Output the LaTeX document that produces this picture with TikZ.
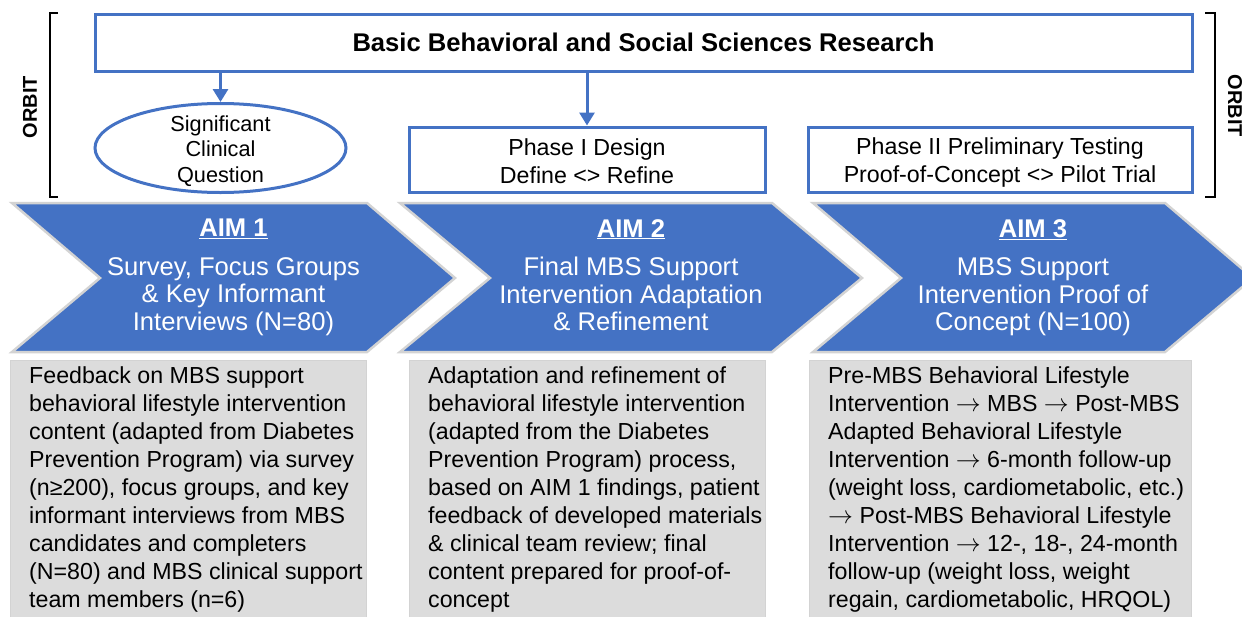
\documentclass[tikz,border=0pt]{standalone}
\usepackage{fontspec}
\setmainfont{Liberation Sans}
\usetikzlibrary{arrows.meta,shapes.geometric,positioning}

\definecolor{aimblue}{HTML}{4472C4}
\definecolor{notegray}{HTML}{DCDCDC}
\definecolor{rimgray}{HTML}{D3D3D3}

\newcommand{\nextstep}{$\rightarrow$}

\tikzset{
    bluebox/.style={rectangle, draw=aimblue, line width=3pt, fill=white, inner sep=0pt, align=center},
    link/.style={draw=aimblue, line width=3pt, -{Triangle[width=15pt,length=13pt]}},
    bracket/.style={draw=black, line width=2.5pt},
    chevron/.style={fill=aimblue, draw=rimgray, line width=2.5pt},
    aimtext/.style={text=white, align=center, inner sep=0pt, anchor=north, font=\fontsize{25.6}{27.5}\selectfont},
    notebox/.style={rectangle, fill=notegray, draw=rimgray, line width=1pt, anchor=north west, minimum height=262pt},
    notetext/.style={align=left, inner sep=0pt, anchor=north west, font=\fontsize{23.2}{28}\selectfont},
    orbit/.style={font=\fontsize{20}{24}\selectfont\bfseries, inner sep=0pt}
}

\begin{document}
\begin{tikzpicture}[x=1pt, y=-1pt]
    \useasboundingbox (0,0) rectangle (1242,616);

    % top row
    \node [bluebox, minimum width=1097pt, minimum height=57pt, font=\fontsize{25.6}{28}\selectfont\bfseries] (basic) at (643.5,42.5) {Basic Behavioral and Social Sciences Research};
    \node [ellipse, draw=aimblue, line width=3pt, minimum width=251pt, minimum height=89pt, inner sep=0pt] (question) at (220.5,148) {};
    \node [align=center, inner sep=0pt, font=\fontsize{21.7}{25.8}\selectfont] (questiontext) at ([yshift=-3pt]question.center) {Significant\\Clinical\\Question};
    \node [bluebox, minimum width=356pt, minimum height=65pt, font=\fontsize{23.2}{27.7}\selectfont] (phase1) at (587,159.5) {\rule{0pt}{20pt}Phase I Design\\Define <> Refine};
    \node [bluebox, minimum width=384pt, minimum height=65pt, font=\fontsize{23.2}{27.7}\selectfont] (phase2) at (1000,159.5) {\rule{0pt}{23pt}Phase II Preliminary Testing\\Proof-of-Concept <> Pilot Trial};

    \draw [link] (question.north |- basic.south) -- (question.north);
    \draw [link] (phase1.north |- basic.south) -- (phase1.north);

    % ORBIT brackets
    \draw [bracket] (58,13) -- (50,13) -- (50,197) -- (58,197);
    \draw [bracket] (1205,13) -- (1215,13) -- (1215,197) -- (1205,197);
    \node [orbit, rotate=90] (orbitleft) at (30,107) {ORBIT};
    \node [orbit, rotate=-90] (orbitright) at (1235,106) {ORBIT};

    % aims
    \draw [chevron] (12,203) -- (367,203) -- (455,278) -- (367,352) -- (12,352) -- (100,278) -- cycle;
    \draw [chevron] (400,203) -- (772,203) -- (862,278) -- (772,352) -- (400,352) -- (490,278) -- cycle;
    \draw [chevron] (813,203) -- (1165,203) -- (1253,278) -- (1165,352) -- (813,352) -- (901,278) -- cycle;

    \node [aimtext] (aim1) at (233.5,219) {\textbf{\underline{AIM 1}}\\[11pt]Survey, Focus Groups\\\& Key Informant\\Interviews (N=80)};
    \node [aimtext] (aim2) at (631,219) {\textbf{\underline{AIM 2}}\\[11pt]Final MBS Support\\Intervention Adaptation\\\& Refinement};
    \node [aimtext] (aim3) at (1033,219) {\textbf{\underline{AIM 3}}\\[11pt]MBS Support\\Intervention Proof of\\Concept (N=100)};

    % descriptions
    \node [notebox, minimum width=356pt] (note1box) at (10,360) {};
    \node [notebox, minimum width=356pt] (note2box) at (409,360) {};
    \node [notebox, minimum width=382pt] (note3box) at (809,360) {};

    \node [notetext] (note1) at ([xshift=19pt,yshift=-6.5pt]note1box.north west) {Feedback on MBS support\\behavioral lifestyle intervention\\content (adapted from Diabetes\\Prevention Program) via survey\\(n≥200), focus groups, and key\\informant interviews from MBS\\candidates and completers\\(N=80) and MBS clinical support\\team members (n=6)};
    \node [notetext] (note2) at ([xshift=19pt,yshift=-6.5pt]note2box.north west) {Adaptation and refinement of\\behavioral lifestyle intervention\\(adapted from the Diabetes\\Prevention Program) process,\\based on AIM 1 findings, patient\\feedback of developed materials\\\& clinical team review; final\\content prepared for proof-of-\\concept};
    \node [notetext] (note3) at ([xshift=19pt,yshift=-6.5pt]note3box.north west) {Pre-MBS Behavioral Lifestyle\\Intervention \nextstep{} MBS \nextstep{} Post-MBS\\Adapted Behavioral Lifestyle\\Intervention \nextstep{} 6-month follow-up\\(weight loss, cardiometabolic, etc.)\\\nextstep{} Post-MBS Behavioral Lifestyle\\Intervention \nextstep{} 12-, 18-, 24-month\\follow-up (weight loss, weight\\regain, cardiometabolic, HRQOL)};
\end{tikzpicture}
\end{document}
